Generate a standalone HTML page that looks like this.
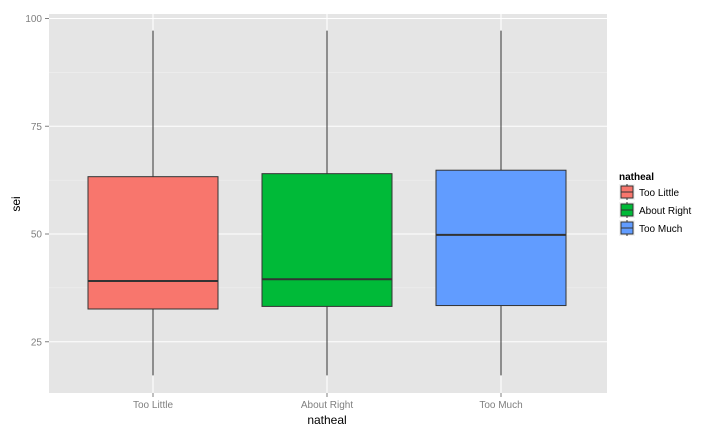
<!DOCTYPE html>
<html><head><meta charset="utf-8"><style>
body{margin:0;background:#fff;font-family:"Liberation Sans",Arial,sans-serif}
svg text{font-family:"Liberation Sans",Arial,sans-serif}
</style></head><body>
<svg id="chart" width="720" height="432" xmlns="http://www.w3.org/2000/svg">
<rect x="49" y="14" width="558" height="379" fill="#e5e5e5"/>
<g id="grid"></g><g id="boxes"></g><g id="axes"></g>
<text x="20" y="204" transform="rotate(-90 20 204)" text-anchor="middle" font-size="12" fill="#000">sei</text>
<text x="327" y="424" text-anchor="middle" font-size="12" fill="#000">natheal</text>
<g id="legend">
<text x="619" y="180" font-size="10" font-weight="bold" fill="#000">natheal</text>
</g>
</svg>
<script>
const categories=["Too Little","About Right","Too Much"];
const lowerWhisker=[17.2,17.2,17.2];
const q1=[32.6,33.2,33.4];
const median=[39.1,39.5,49.8];
const q3=[63.3,64.0,64.8];
const upperWhisker=[97.2,97.2,97.2];
const yTicks=[25,50,75,100];
const colors=["#F8766D","#00BA38","#619CFF"];
const NS="http://www.w3.org/2000/svg";
const y=v=>449.5-4.31*v;
const x=i=>153+174*i;
const bw=130;
function mk(tag,attrs,parent){const e=document.createElementNS(NS,tag);for(const k in attrs)e.setAttribute(k,attrs[k]);parent.appendChild(e);return e;}
const grid=document.getElementById('grid'),boxes=document.getElementById('boxes'),axes=document.getElementById('axes'),legend=document.getElementById('legend');
for(let k=0;k<yTicks.length-1;k++){const m=(yTicks[k]+yTicks[k+1])/2;const l=mk('line',{x1:49,x2:607,y1:y(m),y2:y(m),stroke:'#f2f2f2','stroke-width':0.6},grid);

}
yTicks.forEach(t=>{const l=mk('line',{x1:49,x2:607,y1:y(t),y2:y(t),stroke:'#fff','stroke-width':1.1},grid);


const tk=mk('line',{x1:45,x2:49,y1:y(t),y2:y(t),stroke:'#7f7f7f'},axes);


const tx=mk('text',{x:42,y:y(t)+3.5,'text-anchor':'end','font-size':10,fill:'#7f7f7f'},axes);tx.textContent=t;

});
categories.forEach((c,i)=>{const l=mk('line',{x1:x(i),x2:x(i),y1:14,y2:393,stroke:'#fff','stroke-width':1.1},grid);


const g=mk('g',{},boxes);


mk('line',{x1:x(i),x2:x(i),y1:y(upperWhisker[i]),y2:y(q3[i]),stroke:'#333'},g);
mk('line',{x1:x(i),x2:x(i),y1:y(q1[i]),y2:y(lowerWhisker[i]),stroke:'#333'},g);
mk('rect',{x:x(i)-bw/2,y:y(q3[i]),width:bw,height:y(q1[i])-y(q3[i]),fill:colors[i],stroke:'#333','stroke-width':1},g);
mk('line',{x1:x(i)-bw/2,x2:x(i)+bw/2,y1:y(median[i]),y2:y(median[i]),stroke:'#333','stroke-width':2},g);
const tk=mk('line',{x1:x(i),x2:x(i),y1:393,y2:397,stroke:'#7f7f7f'},axes);


const tx=mk('text',{x:x(i),y:408,'text-anchor':'middle','font-size':10,fill:'#7f7f7f'},axes);tx.textContent=c;


const ly=185+18*i;
const le=mk('g',{},legend);


mk('rect',{x:619,y:ly-1,width:16,height:16,fill:'#f2f2f2'},le);
mk('line',{x1:627,x2:627,y1:ly-1,y2:ly+15,stroke:'#333'},le);
mk('rect',{x:621,y:ly+1,width:12,height:12,fill:colors[i],stroke:'#333'},le);
mk('line',{x1:621,x2:633,y1:ly+7,y2:ly+7,stroke:'#333'},le);
const lt=mk('text',{x:639,y:ly+11,'font-size':10,fill:'#000'},le);lt.textContent=c;});
</script>
</body></html>
